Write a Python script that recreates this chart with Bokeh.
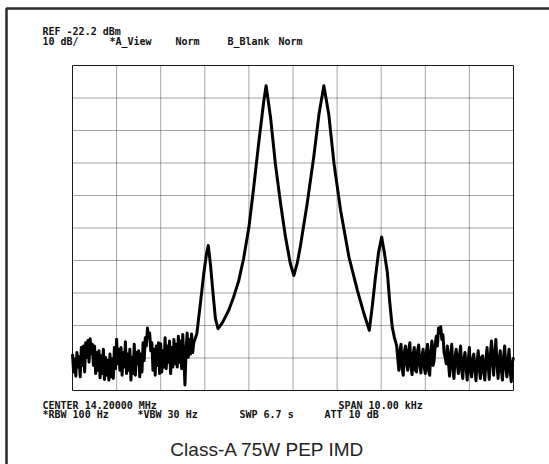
from bokeh.plotting import figure
from bokeh.models import Range1d, Label, BoxAnnotation
from bokeh.embed import file_html
from bokeh.resources import INLINE

# ---- data: spectrum analyser trace (offset from 14.2 MHz in kHz, level in dBm)
sweep_step_khz = 0.025

# noise floor left of the signal: levels read at each sweep bin from -5.000 kHz
noise_left_start_khz = -5.000
noise_left_dbm = [
    -111.0, -116.5, -112.5, -117.8, -110.5, -115.0, -111.8, -118.0, -109.0, -114.5,
    -108.5, -116.5, -107.5, -112.0, -106.8, -113.5, -106.3, -111.0, -108.0, -114.5,
    -108.5, -117.0, -110.5, -116.0, -110.0, -118.3, -111.5, -117.0, -109.5, -118.8,
    -112.0, -117.5, -113.0, -119.0, -111.0, -118.0, -112.5, -118.5, -109.0, -115.5,
    -106.4, -114.0, -109.5, -116.0, -109.0, -117.5, -110.5, -115.0, -107.2, -117.0,
    -111.0, -116.0, -109.5, -119.0, -112.0, -117.0, -108.0, -117.5, -110.5, -114.0,
    -110.0, -118.0, -111.0, -116.5, -107.5, -113.0, -106.0, -108.5, -103.0, -106.0,
    -104.5, -110.0, -107.5, -116.0, -109.5, -117.5, -108.5, -114.5, -107.5, -117.0,
    -107.8, -116.5, -110.0, -115.0, -106.0, -115.5, -108.5, -113.5, -107.0, -117.0,
    -109.0, -115.0, -106.5, -114.0, -108.0, -115.0, -105.5, -113.5, -107.0, -115.5,
    -105.0, -112.0, -120.5, -110.0, -104.5, -112.0, -106.5, -111.0, -104.8, -110.5,
    -107.5,
]

# two tones and IMD products
signal_khz = [
    -2.18, -2.10, -2.02, -1.96, -1.92, -1.87, -1.81, -1.76, -1.70, -1.60,
    -1.46, -1.35, -1.23, -1.12, -1.00, -0.89, -0.78, -0.66, -0.61, -0.51,
    -0.40, -0.28, -0.17, -0.06, 0.02, 0.10, 0.17, 0.32, 0.47, 0.59,
    0.70, 0.81, 0.93, 1.08, 1.27, 1.46, 1.61, 1.73, 1.80, 1.87,
    1.94, 2.01, 2.07, 2.14, 2.19, 2.25, 2.30, 2.35,
]
signal_dbm = [
    -104.7, -95.4, -85.9, -80.0, -77.6, -83.7, -92.8, -100.0, -103.2, -101.3,
    -97.6, -93.6, -88.4, -81.6, -72.0, -59.6, -46.3, -32.9, -28.4, -38.1,
    -52.4, -64.8, -75.0, -83.2, -86.8, -82.8, -77.6, -64.8, -50.4, -37.1,
    -28.4, -37.1, -52.4, -66.8, -81.2, -91.4, -98.6, -103.7, -96.0, -87.3,
    -79.7, -75.0, -79.7, -85.9, -94.5, -102.7, -105.9, -108.4,
]

# noise floor right of the signal: levels read at each sweep bin from +2.400 kHz
noise_right_start_khz = 2.400
noise_right_dbm = [
    -116.0, -110.0, -108.0, -115.5, -117.5, -110.5, -108.5, -114.0, -116.0, -109.5,
    -107.5, -115.0, -117.3, -111.0, -109.0, -116.0, -116.5, -110.0, -108.2, -114.5,
    -116.8, -111.5, -109.5, -115.0, -117.0, -110.5, -108.0, -116.0, -117.5, -110.0,
    -107.0, -114.5, -113.0, -108.0, -105.5, -108.5, -103.0, -104.5, -102.6, -106.5,
    -105.0, -110.5, -112.0, -114.0, -108.5, -113.5, -117.8, -111.0, -108.0, -115.5,
    -118.5, -112.0, -109.5, -114.0, -117.0, -111.5, -108.5, -116.0, -118.5, -112.5,
    -110.5, -115.0, -119.0, -113.0, -109.0, -116.5, -118.0, -112.5, -111.0, -116.0,
    -119.2, -113.5, -110.0, -115.5, -118.5, -112.0, -111.5, -116.5, -119.0, -113.0,
    -109.0, -114.5, -118.8, -111.5, -107.0, -113.0, -117.5, -110.5, -106.5, -114.0,
    -118.5, -112.5, -110.0, -116.0, -119.0, -112.0, -108.5, -115.0, -118.0, -113.0,
    -109.5, -116.5, -119.5, -113.5, -112.0,
]

ref_level_dbm = -22.2
db_per_div = 10
n_div = 10
span_khz = 10.0
x_grid_ticks = [-4, -3, -2, -1, 0, 1, 2, 3, 4]
y_grid_ticks = [-32.2, -42.2, -52.2, -62.2, -72.2, -82.2, -92.2, -102.2, -112.2]

header_line1 = "REF -22.2 dBm"
header_line2 = ["10 dB/", "*A_View", "Norm", "B_Blank", "Norm"]
footer_line1 = ["CENTER 14.20000 MHz", "SPAN 10.00 kHz"]
footer_line2 = ["*RBW 100 Hz", "*VBW 30 Hz", "SWP 6.7 s", "ATT 10 dB"]
chart_title = "Class-A 75W PEP IMD"

# assemble the trace (sweep bins are equally spaced)
freq_khz = ([noise_left_start_khz + i * sweep_step_khz for i in range(len(noise_left_dbm))]
            + signal_khz
            + [noise_right_start_khz + i * sweep_step_khz for i in range(len(noise_right_dbm))])
level_dbm = noise_left_dbm + signal_dbm + noise_right_dbm

# ---- layout: the plotting frame fills the canvas; the graticule sits inside it
W, H = 549, 464
GL, GT, GR, GB = 72, 65, 513, 390          # graticule edges in page pixels
x_lo, x_hi = -span_khz / 2, span_khz / 2
y_hi = ref_level_dbm
y_lo = ref_level_dbm - n_div * db_per_div
kx = (GR - GL) / (x_hi - x_lo)              # px per kHz
ky = (GB - GT) / (y_hi - y_lo)              # px per dB

p = figure(width=W, height=H, output_backend="svg", toolbar_location=None,
           x_axis_location=None, y_axis_location=None,
           x_range=Range1d(x_lo - GL / kx, x_hi + (W - GR) / kx),
           y_range=Range1d(y_lo - (H - GB) / ky, y_hi + GT / ky),
           min_border=0, min_border_left=0, min_border_right=0,
           min_border_top=0, min_border_bottom=0)
p.background_fill_color = "white"
p.border_fill_color = "white"
p.outline_line_color = None
p.grid.visible = False

# graticule (dotted) and its frame
p.segment(x0=x_grid_ticks, x1=x_grid_ticks, y0=[y_lo] * len(x_grid_ticks), y1=[y_hi] * len(x_grid_ticks),
          line_color="#4a4a4a", line_dash="1 1", line_width=1)
p.segment(x0=[x_lo] * len(y_grid_ticks), x1=[x_hi] * len(y_grid_ticks), y0=y_grid_ticks, y1=y_grid_ticks,
          line_color="#4a4a4a", line_dash="1 1", line_width=1)
p.quad(left=[x_lo], right=[x_hi], bottom=[y_lo], top=[y_hi],
       fill_color=None, line_color="#1a1a1a", line_width=1)

p.line(freq_khz, level_dbm, line_color="black", line_width=3, line_join="round")

# outer border (left and top edges visible)
p.add_layout(BoxAnnotation(left=6, right=3000, top=H - 8, bottom=-3000,
                           left_units="screen", right_units="screen",
                           top_units="screen", bottom_units="screen",
                           fill_alpha=0, line_color="#2a2a2a", line_alpha=1.0,
                           line_width=2.5))

mono = "DejaVu Sans Mono"
fs = "10px"

def lab(px, py, text, font=mono, size=fs, style="bold", align="left", color="#111111"):
    # px, py: page-pixel position of text start / baseline
    p.add_layout(Label(x=px, y=H - py, x_units="screen", y_units="screen",
                       text=text, text_font=font, text_font_size=size,
                       text_font_style=style, text_align=align,
                       text_baseline="alphabetic", text_color=color))

lab(42, 31, header_line1)
for xx, t in zip([42, 109, 175, 227, 278], header_line2):
    lab(xx, 41, t)
for xx, t in zip([42, 338], footer_line1):
    lab(xx, 405, t)
for xx, t in zip([42, 137, 239, 324], footer_line2):
    lab(xx, 414, t)
lab(267, 449, chart_title, font="Liberation Sans", size="19px", style="normal",
    align="center", color="#222222")

open("out.html", "w").write(file_html(p, INLINE))
